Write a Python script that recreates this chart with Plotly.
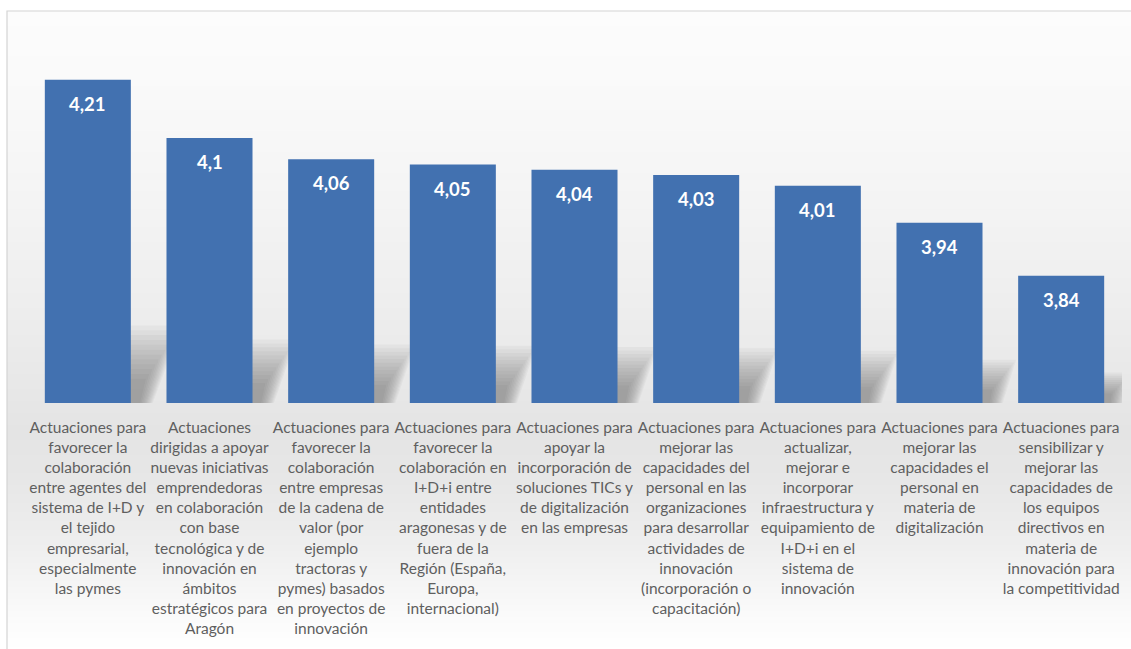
import plotly.graph_objects as go

# Category labels (line-broken as they appear under each bar)
categorias = [
    "Actuaciones para<br>favorecer la<br>colaboración<br>entre agentes del<br>sistema de I+D y<br>el tejido<br>empresarial,<br>especialmente<br>las pymes",
    "Actuaciones<br>dirigidas a apoyar<br>nuevas iniciativas<br>emprendedoras<br>en colaboración<br>con base<br>tecnológica y de<br>innovación en<br>ámbitos<br>estratégicos para<br>Aragón",
    "Actuaciones para<br>favorecer la<br>colaboración<br>entre empresas<br>de la cadena de<br>valor (por<br>ejemplo<br>tractoras y<br>pymes) basados<br>en proyectos de<br>innovación",
    "Actuaciones para<br>favorecer la<br>colaboración en<br>I+D+i entre<br>entidades<br>aragonesas y de<br>fuera de la<br>Región (España,<br>Europa,<br>internacional)",
    "Actuaciones para<br>apoyar la<br>incorporación de<br>soluciones TICs y<br>de digitalización<br>en las empresas",
    "Actuaciones para<br>mejorar las<br>capacidades del<br>personal en las<br>organizaciones<br>para desarrollar<br>actividades de<br>innovación<br>(incorporación o<br>capacitación)",
    "Actuaciones para<br>actualizar,<br>mejorar e<br>incorporar<br>infraestructura y<br>equipamiento de<br>I+D+i en el<br>sistema de<br>innovación",
    "Actuaciones para<br>mejorar las<br>capacidades el<br>personal en<br>materia de<br>digitalización",
    "Actuaciones para<br>sensibilizar y<br>mejorar las<br>capacidades de<br>los equipos<br>directivos en<br>materia de<br>innovación para<br>la competitividad",
]

# Average score per action
valores = [4.21, 4.1, 4.06, 4.05, 4.04, 4.03, 4.01, 3.94, 3.84]

# Value axis range
y_min, y_max = 3.6, 4.3

# Figure geometry
W, H = 1131, 649
M_L, M_R, M_T, M_B = 27, 9, 32, 246
BAR_FRAC = 0.707
BAR_COLOR = "#4271B0"

plot_w = W - M_L - M_R
plot_h = H - M_T - M_B
px_per_cat = plot_w / len(valores)
px_per_unit = plot_h / (y_max - y_min)


def paper_x(px):
    return (px - M_L) / plot_w


def paper_y(py):
    return (H - M_B - py) / plot_h


def gray(level):
    return f"rgb({level},{level},{level})"


shapes = []

# Soft vertical gradient of the chart area (white -> light gray -> white)
stops = [(11, 252), (100, 249), (200, 244), (300, 238), (380, 232),
         (430, 228), (480, 231), (540, 238), (590, 246), (625, 252), (649, 255)]
frame_left, frame_top = 7, 11
step = 3
py = frame_top
while py < H:
    for (ya, ga), (yb, gb) in zip(stops[:-1], stops[1:]):
        if ya <= py <= yb:
            g = ga + (gb - ga) * (py - ya) / (yb - ya)
            break
    else:
        g = 255
    shapes.append(dict(
        type="rect", xref="paper", yref="paper", layer="below",
        x0=paper_x(frame_left), x1=paper_x(W + 5),
        y0=paper_y(py), y1=paper_y(py + step + 0.6),
        fillcolor=gray(int(round(g))), line=dict(width=0),
    ))
    py += step

# Chart frame
shapes.append(dict(
    type="rect", xref="paper", yref="paper", layer="above",
    x0=paper_x(frame_left), x1=paper_x(W + 5),
    y0=paper_y(frame_top), y1=paper_y(H + 5),
    line=dict(color="#d4d4d4", width=1.2), fillcolor="rgba(0,0,0,0)",
))

# Perspective shadow behind each bar: many faint layers of growing height and
# width, so it is darkest at the base and fades out softly towards the top.
half = BAR_FRAC / 2
N_LAYERS = 12
for i, v in enumerate(valores):
    hs = 0.24 * (v - y_min)                        # full shadow height (data units)
    for k in range(N_LAYERS):
        t = (k + 1) / N_LAYERS
        h_k = hs * (0.25 + 0.75 * t)
        skew = 0.5 * h_k * px_per_unit / px_per_cat
        ex = (2 + 10 * t) / px_per_cat
        x0 = i - half - ex * 0.3
        x1 = i + half + ex
        path = (f"M {x0},{y_min - 0.05} L {x1},{y_min - 0.05} "
                f"L {x1 + skew},{y_min + h_k} L {x0 + skew},{y_min + h_k} Z")
        shapes.append(dict(
            type="path", xref="x", yref="y", layer="below", path=path,
            fillcolor="rgba(70,70,70,0.045)", line=dict(width=0),
        ))

fig = go.Figure(go.Bar(
    x=list(range(len(valores))),
    y=valores,
    width=BAR_FRAC,
    marker=dict(color=BAR_COLOR, line=dict(width=0)),
    hoverinfo="skip",
))

# Value labels inside the top of each bar
annotations = [
    dict(x=i, y=v, xref="x", yref="y", text=f"{v:g}".replace(".", ","),
         showarrow=False, yanchor="top", yshift=-11,
         font=dict(family="Lato, 'Open Sans', sans-serif", size=18.5,
                   color="white", weight="bold"))
    for i, v in enumerate(valores)
]

fig.update_layout(
    width=W, height=H,
    margin=dict(l=M_L, r=M_R, t=M_T, b=M_B, pad=0),
    paper_bgcolor="white",
    plot_bgcolor="rgba(0,0,0,0)",
    showlegend=False,
    shapes=shapes,
    annotations=annotations,
    bargap=1 - BAR_FRAC,
    xaxis=dict(
        tickmode="array",
        tickvals=list(range(len(valores))),
        ticktext=categorias,
        range=[-0.5, len(valores) - 0.5],
        tickangle=0,
        ticks="outside", ticklen=10, tickcolor="rgba(0,0,0,0)",
        showline=False, showgrid=False, zeroline=False,
        tickfont=dict(family="Lato, 'Open Sans', sans-serif", size=15.5,
                      color="#5f5f5f"),
        fixedrange=True,
    ),
    yaxis=dict(
        range=[y_min, y_max],
        showticklabels=False, showgrid=False, zeroline=False,
        showline=False, ticks="", fixedrange=True,
    ),
)

fig.write_html("out.html", config={"displayModeBar": False})
